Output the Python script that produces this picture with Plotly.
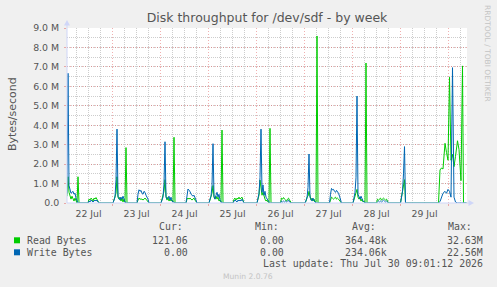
import plotly.graph_objects as go

# ---------------- data (values in millions of bytes/second) ----------------
sample_times = [
    # 22 Jul
    "07-22 01:15", "07-22 01:45", "07-22 02:15", "07-22 02:45", "07-22 03:15", "07-22 03:45",
    "07-22 04:15", "07-22 04:45", "07-22 05:15", "07-22 05:45", "07-22 06:15", "07-22 06:45",
    "07-22 07:15", "07-22 11:45", "07-22 12:15", "07-22 12:45", "07-22 13:15", "07-22 13:45",
    "07-22 14:15", "07-22 14:45", "07-22 15:15", "07-22 15:45", "07-22 16:15", "07-22 16:45",
    "07-22 17:15",
    # 23 Jul
    "07-23 00:15", "07-23 00:45", "07-23 01:15", "07-23 01:45", "07-23 02:15", "07-23 02:45",
    "07-23 03:15", "07-23 03:45", "07-23 04:15", "07-23 04:45", "07-23 05:15", "07-23 05:45",
    "07-23 06:15", "07-23 06:45", "07-23 07:15", "07-23 12:15", "07-23 12:45", "07-23 13:15",
    "07-23 13:45", "07-23 14:15", "07-23 14:45", "07-23 15:15", "07-23 15:45", "07-23 16:15",
    "07-23 16:45", "07-23 17:15", "07-23 17:45", "07-23 18:15",
    # 24 Jul
    "07-24 00:15", "07-24 00:45", "07-24 01:15", "07-24 01:45", "07-24 02:15", "07-24 02:45",
    "07-24 03:15", "07-24 03:45", "07-24 04:15", "07-24 04:45", "07-24 05:15", "07-24 05:45",
    "07-24 06:15", "07-24 06:45", "07-24 07:15", "07-24 12:45", "07-24 13:15", "07-24 13:45",
    "07-24 14:15", "07-24 14:45", "07-24 15:15", "07-24 15:45", "07-24 16:15", "07-24 16:45",
    "07-24 17:15", "07-24 17:45", "07-24 18:15",
    # 25 Jul
    "07-25 00:15", "07-25 00:45", "07-25 01:15", "07-25 01:45", "07-25 02:15", "07-25 02:45",
    "07-25 03:15", "07-25 03:45", "07-25 04:15", "07-25 04:45", "07-25 05:15", "07-25 05:45",
    "07-25 06:15", "07-25 06:45", "07-25 07:15", "07-25 12:15", "07-25 12:45", "07-25 13:15",
    "07-25 13:45", "07-25 14:15", "07-25 14:45", "07-25 15:15", "07-25 15:45", "07-25 16:15",
    "07-25 16:45", "07-25 17:15", "07-25 17:45",
    # 26 Jul
    "07-26 00:15", "07-26 00:45", "07-26 01:15", "07-26 01:45", "07-26 02:15", "07-26 02:45",
    "07-26 03:15", "07-26 03:45", "07-26 04:15", "07-26 04:45", "07-26 05:15", "07-26 05:45",
    "07-26 06:15", "07-26 06:45", "07-26 07:15", "07-26 12:00", "07-26 12:30", "07-26 13:00",
    "07-26 13:30", "07-26 14:00", "07-26 14:30", "07-26 15:00", "07-26 15:30", "07-26 16:00",
    "07-26 16:30", "07-26 17:00", "07-26 17:30",
    # 27 Jul
    "07-27 00:15", "07-27 00:45", "07-27 01:15", "07-27 01:45", "07-27 02:15", "07-27 02:45",
    "07-27 03:15", "07-27 03:45", "07-27 04:15", "07-27 04:45", "07-27 05:15", "07-27 05:45",
    "07-27 06:15", "07-27 06:45", "07-27 12:30", "07-27 13:00", "07-27 13:30", "07-27 14:00",
    "07-27 14:30", "07-27 15:00", "07-27 15:30", "07-27 16:00", "07-27 16:30", "07-27 17:00",
    "07-27 17:30", "07-27 18:00", "07-27 18:30",
    # 28 Jul
    "07-28 00:15", "07-28 00:45", "07-28 01:15", "07-28 01:45", "07-28 02:15", "07-28 02:45",
    "07-28 03:15", "07-28 03:45", "07-28 04:15", "07-28 04:45", "07-28 05:15", "07-28 05:45",
    "07-28 06:15", "07-28 06:45", "07-28 07:15", "07-28 12:00", "07-28 12:30", "07-28 13:00",
    "07-28 13:30", "07-28 14:00", "07-28 14:30", "07-28 15:00", "07-28 15:30", "07-28 16:00",
    "07-28 16:30", "07-28 17:00", "07-28 17:30", "07-28 18:00",
    # 29 / 30 Jul
    "07-29 00:00", "07-29 00:30", "07-29 01:00", "07-29 01:30", "07-29 02:00", "07-29 02:30",
    "07-29 19:00", "07-29 19:45", "07-29 20:30", "07-29 21:15", "07-29 22:15", "07-29 23:00",
    "07-29 23:45", "07-30 00:30", "07-30 01:15", "07-30 02:00", "07-30 02:45", "07-30 03:30",
    "07-30 04:30", "07-30 05:15", "07-30 06:15", "07-30 07:00", "07-30 07:30", "07-30 09:00",
]

read_m = [
    # 22 Jul
    0.35, 1.35, 0.55, 0.30, 0.20, 0.35, 0.20, 0.10, 0.25, 0.05, 0.00, 1.35,
    0.00, 0.00, 0.20, 0.15, 0.25, 0.20, 0.10, 0.25, 0.20, 0.28, 0.20, 0.10, 0.00,
    # 23 Jul
    0.00, 0.15, 0.30, 0.50, 1.35, 0.30, 0.20, 0.30, 0.10, 0.25, 0.05, 0.20,
    0.05, 2.85, 0.00, 0.00, 0.15, 0.25, 0.20, 0.22, 0.20, 0.15, 0.20, 0.25,
    0.20, 0.15, 0.10, 0.00,
    # 24 Jul
    0.00, 0.20, 0.30, 0.60, 1.20, 0.35, 0.15, 0.30, 0.10, 0.20, 0.10, 0.15,
    0.05, 3.38, 0.00, 0.00, 0.20, 0.25, 0.20, 0.25, 0.20, 0.15, 0.20, 0.25,
    0.15, 0.10, 0.00,
    # 25 Jul
    0.00, 0.15, 0.30, 0.50, 0.90, 0.30, 0.20, 0.35, 0.20, 0.30, 0.10, 0.15,
    0.05, 3.75, 0.00, 0.00, 0.20, 0.25, 0.15, 0.25, 0.20, 0.30, 0.20, 0.25,
    0.30, 0.15, 0.00,
    # 26 Jul
    0.00, 0.20, 0.40, 1.18, 0.60, 0.40, 0.55, 0.30, 0.20, 0.10, 0.15, 0.05,
    0.00, 3.84, 0.00, 0.00, 0.25, 0.20, 0.28, 0.20, 0.15, 0.10, 0.20, 0.25,
    0.15, 0.05, 0.00,
    # 27 Jul
    0.00, 0.10, 0.30, 0.35, 0.60, 0.30, 0.15, 0.25, 0.10, 0.20, 0.05, 0.05,
    8.59, 0.00, 0.00, 0.15, 0.30, 0.25, 0.20, 0.25, 0.30, 0.20, 0.25, 0.20,
    0.15, 0.10, 0.00,
    # 28 Jul
    0.00, 0.15, 0.30, 0.50, 0.70, 0.30, 0.20, 0.30, 0.10, 0.20, 0.05, 0.10,
    0.00, 7.20, 0.00, 0.00, 0.20, 0.15, 0.20, 0.25, 0.15, 0.20, 0.25, 0.20,
    0.15, 0.20, 0.10, 0.00,
    # 29 / 30 Jul
    0.00, 0.30, 0.40, 0.80, 1.20, 0.00,
    0.00, 1.70, 1.80, 1.75, 3.07, 2.60, 2.20, 6.47, 2.20, 2.50, 1.87, 2.40,
    3.20, 2.75, 1.15, 7.05, 0.00, 0.00,
]

write_m = [
    # 22 Jul
    0.50, 6.67, 0.90, 0.60, 0.50, 0.55, 0.60, 0.45, 0.50, 0.25, 0.05, 0.00,
    0.00, 0.00, 0.10, 0.05, 0.15, 0.10, 0.05, 0.10, 0.15, 0.10, 0.15, 0.05, 0.00,
    # 23 Jul
    0.00, 0.20, 0.30, 1.20, 3.80, 0.35, 0.20, 0.15, 0.30, 0.20, 0.35, 0.15,
    0.05, 0.00, 0.00, 0.00, 0.45, 0.68, 0.60, 0.65, 0.50, 0.45, 0.60, 0.55,
    0.40, 0.30, 0.20, 0.00,
    # 24 Jul
    0.00, 0.15, 0.30, 1.00, 3.15, 0.30, 0.20, 0.25, 0.35, 0.15, 0.30, 0.10,
    0.05, 0.00, 0.00, 0.00, 0.50, 0.72, 0.65, 0.60, 0.45, 0.40, 0.35, 0.40,
    0.30, 0.15, 0.00,
    # 25 Jul
    0.00, 0.20, 0.35, 0.90, 3.05, 0.35, 0.20, 0.40, 0.55, 0.30, 0.45, 0.15,
    0.05, 0.00, 0.00, 0.00, 0.10, 0.15, 0.10, 0.05, 0.15, 0.10, 0.15, 0.10,
    0.20, 0.05, 0.00,
    # 26 Jul
    0.00, 0.30, 0.50, 1.30, 3.80, 0.55, 0.93, 0.40, 0.60, 0.30, 0.20, 0.10,
    0.05, 0.00, 0.00, 0.00, 0.10, 0.05, 0.10, 0.05, 0.10, 0.05, 0.10, 0.15,
    0.05, 0.00, 0.00,
    # 27 Jul
    0.00, 0.15, 0.25, 0.80, 2.52, 0.30, 0.20, 0.10, 0.25, 0.10, 0.05, 0.00,
    0.00, 0.00, 0.00, 0.45, 0.75, 0.68, 0.70, 0.60, 0.55, 0.65, 0.60, 0.50,
    0.35, 0.20, 0.00,
    # 28 Jul
    0.00, 0.20, 0.55, 1.30, 5.50, 0.45, 0.30, 0.20, 0.35, 0.15, 0.10, 0.05,
    0.00, 0.00, 0.00, 0.00, 0.05, 0.10, 0.05, 0.10, 0.05, 0.10, 0.15, 0.10,
    0.05, 0.10, 0.05, 0.00,
    # 29 / 30 Jul
    0.00, 0.30, 0.60, 1.50, 2.90, 0.00,
    0.00, 0.07, 0.30, 0.50, 0.60, 0.50, 0.70, 0.60, 0.30, 6.96, 0.30, 0.05,
    0.00, 0.00, 0.00, 0.00, 0.00, 0.00,
]

day_labels = ["22 Jul", "23 Jul", "24 Jul", "25 Jul", "26 Jul", "27 Jul", "28 Jul", "29 Jul"]
day_dates = ["2026-07-22", "2026-07-23", "2026-07-24", "2026-07-25",
             "2026-07-26", "2026-07-27", "2026-07-28", "2026-07-29", "2026-07-30"]
minor_hours = ["06:00", "12:00", "18:00"]
y_tick_vals_m = [0, 1, 2, 3, 4, 5, 6, 7, 8, 9]
y_tick_text = ["0.0", "1.0 M", "2.0 M", "3.0 M", "4.0 M", "5.0 M", "6.0 M", "7.0 M", "8.0 M", "9.0 M"]
y_top_m = 9

legend_names = ["Read Bytes", "Write Bytes"]
legend_cur = ["121.06", "0.00"]
legend_min = ["0.00", "0.00"]
legend_avg = ["364.48k", "234.06k"]
legend_max = ["32.63M", "22.56M"]
last_update = "Last update: Thu Jul 30 09:01:12 2026"

# ---------------- styling ----------------
GREEN = "#00CC00"
BLUE = "#0066B3"
BG = "#F0F0F0"
FONT_COL = "#555555"
AXIS_COL = "#CFD6F8"
MGRID = "rgba(222,79,79,0.45)"
GRID = "#CDCDCD"
SANS = "DejaVu Sans"
MONO = "DejaVu Sans Mono"

W, H = 497, 287
L, R, T, B = 67, 30, 28, 84
PW, PH = W - L - R, H - T - B


def px(xp):
    return (xp - L) / PW


def py(yp):
    return (T + PH - yp) / PH


full_times = ["2026-" + t for t in sample_times]
read_b = [v * 1e6 for v in read_m]
write_b = [v * 1e6 for v in write_m]
midnights = [d + " 00:00" for d in day_dates]
label_times = [d + " 12:00" for d in day_dates[:-1]]
six_hours = [d + " " + h for d in day_dates for h in minor_hours]
xrange = ["2026-07-22 01:15", "2026-07-30 09:15"]

# 6-hourly grey grid lines (built from the time list, drawn as one dotted trace)
grid_x, grid_y = [], []
for t in six_hours:
    grid_x += [t, t, None]
    grid_y += [0, y_top_m * 1e6, None]

fig = go.Figure()
fig.add_trace(go.Scatter(x=grid_x, y=grid_y, mode="lines", hoverinfo="skip",
                         line=dict(color=GRID, width=1, dash="1px,1px"),
                         showlegend=False, cliponaxis=True))
fig.add_trace(go.Scatter(x=label_times, y=[0] * len(label_times), xaxis="x2",
                         mode="markers", marker=dict(opacity=0), hoverinfo="skip",
                         showlegend=False))
fig.add_trace(go.Scatter(x=full_times, y=read_b, mode="lines", name=legend_names[0],
                         line=dict(color=GREEN, width=1), hoverinfo="skip"))
fig.add_trace(go.Scatter(x=full_times, y=write_b, mode="lines", name=legend_names[1],
                         line=dict(color=BLUE, width=1), hoverinfo="skip"))

fig.update_layout(
    width=W, height=H,
    margin=dict(l=L, r=R, t=T, b=B),
    paper_bgcolor=BG, plot_bgcolor="#FFFFFF",
    showlegend=False,
    title=dict(text="Disk throughput for /dev/sdf - by week",
               x=0.5, xref="paper", xanchor="center",
               y=1 - 18 / H, yref="container", yanchor="middle",
               font=dict(family=SANS, size=12.5, color=FONT_COL)),
    # day (midnight) major grid
    xaxis=dict(type="date", range=xrange, tickmode="array", tickvals=midnights,
               showticklabels=False,
               showgrid=True, gridcolor=MGRID, griddash="1px,2px", gridwidth=1,
               ticks="outside", ticklen=2, tickcolor=MGRID,
               showline=False, zeroline=False, fixedrange=True),
    # day labels centred at noon
    xaxis2=dict(type="date", range=xrange, overlaying="x", anchor="y", side="bottom",
                tickmode="array", tickvals=label_times, ticktext=day_labels,
                showgrid=False, showline=False, ticks="", zeroline=False,
                tickfont=dict(family=SANS, size=9.3, color=FONT_COL),
                ticklabelstandoff=4),
    yaxis=dict(range=[0, y_top_m * 1e6], tickmode="array",
               tickvals=[v * 1e6 for v in y_tick_vals_m], ticktext=y_tick_text,
               showgrid=True, gridcolor=MGRID, griddash="1px,2px",
               ticks="outside", ticklen=2, tickcolor=MGRID,
               minor=dict(dtick=0.5e6, showgrid=True, gridcolor=GRID, griddash="1px,1px"),
               tickfont=dict(family=SANS, size=9.4, color=FONT_COL),
               ticklabelstandoff=3,
               showline=False, zeroline=False, fixedrange=True),
)

shapes = []
# axes with arrows
shapes.append(dict(type="line", xref="paper", yref="paper", x0=0, x1=0, y0=0, y1=py(22),
                   line=dict(color=AXIS_COL, width=1)))
shapes.append(dict(type="line", xref="paper", yref="paper", x0=0, x1=px(472), y0=0, y1=0,
                   line=dict(color=AXIS_COL, width=1)))
shapes.append(dict(type="path", xref="paper", yref="paper",
                   path=f"M {px(64)} {py(25.5)} L {px(70)} {py(25.5)} L {px(67)} {py(20)} Z",
                   fillcolor=AXIS_COL, line=dict(width=0)))
shapes.append(dict(type="path", xref="paper", yref="paper",
                   path=f"M {px(468.5)} {py(200)} L {px(468.5)} {py(206)} L {px(474)} {py(203)} Z",
                   fillcolor=AXIS_COL, line=dict(width=0)))
# legend squares
for col, yc in [(GREEN, 240.3), (BLUE, 252.3)]:
    shapes.append(dict(type="rect", xref="paper", yref="paper",
                       x0=px(14), x1=px(20), y0=py(yc + 3), y1=py(yc - 3),
                       fillcolor=col, line=dict(width=0)))
fig.update_layout(shapes=shapes)

ann = []


def txt(text, x, y, anchor="left", size=9.9, family=MONO, color=FONT_COL, angle=0):
    ann.append(dict(text=text, x=px(x), y=py(y), xref="paper", yref="paper",
                    xanchor=anchor, yanchor="middle", showarrow=False, textangle=angle,
                    font=dict(family=family, size=size, color=color), borderpad=0))


# y-axis title
txt("Bytes/second", 12, 114, anchor="center", size=11, family=SANS, angle=-90)
# RRDtool credit
txt("RRDTOOL / TOBI OETIKER", 487.5, 53.5, anchor="center", size=7.5, family=SANS,
    color="#C4C4C4", angle=90)
# legend header
for hdr, x in [("Cur:", 158), ("Min:", 254), ("Avg:", 351), ("Max:", 447)]:
    txt(hdr, x, 226.7)
rows_y = [240, 252]
for i in range(2):
    y = rows_y[i]
    txt(legend_names[i], 26, y)
    txt(legend_cur[i], 189, y, anchor="right")
    txt(legend_min[i], 285, y, anchor="right")
    txt(legend_avg[i], 388, y, anchor="right")
    txt(legend_max[i], 484, y, anchor="right")
txt(last_update, 484, 263.5, anchor="right")
txt("Munin 2.0.76", 248, 276, anchor="center", size=7.6, family=SANS, color="#C4C4C4")
fig.update_layout(annotations=ann)

fig.write_html("out.html")
